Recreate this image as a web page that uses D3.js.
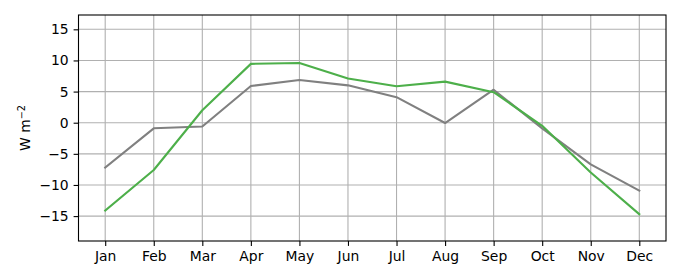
<!DOCTYPE html>
<html>
<head>
<meta charset="utf-8">
<script src="https://cdn.jsdelivr.net/npm/d3@7"></script>
<style>
  html, body { margin: 0; padding: 0; background: #fff; }
  svg { display: block; }
  text { font-family: "DejaVu Sans", sans-serif; }
</style>
</head>
<body>
<svg id="chart" width="680" height="280"></svg>
<script>
const months = ["Jan","Feb","Mar","Apr","May","Jun","Jul","Aug","Sep","Oct","Nov","Dec"];
const greySeries = [-7.2, -0.9, -0.6, 5.9, 6.85, 6.0, 4.1, -0.05, 5.3, -0.9, -6.7, -10.9];
const greenSeries = [-14.1, -7.6, 2.0, 9.45, 9.6, 7.1, 5.85, 6.6, 4.9, -0.5, -8.0, -14.7];
const yTicks = [-15, -10, -5, 0, 5, 10, 15];
const yDomain = [-19, 17.3];

const W = 680, H = 280;
const m = { left: 78.5, right: 680 - 666, top: 15, bottom: 280 - 241 };
const svg = d3.select("#chart");

const x = d3.scaleLinear().domain([-0.55, 11.55]).range([m.left, W - m.right]);
const y = d3.scaleLinear().domain(yDomain).range([H - m.bottom, m.top]);

// grid
const g = svg.append("g");
g.selectAll("line.vx").data(months).join("line")
  .attr("x1", (d, i) => x(i)).attr("x2", (d, i) => x(i))
  .attr("y1", m.top).attr("y2", H - m.bottom)
  .attr("stroke", "#b0b0b0").attr("stroke-width", 1.1);
g.selectAll("line.hy").data(yTicks).join("line")
  .attr("y1", d => y(d)).attr("y2", d => y(d))
  .attr("x1", m.left).attr("x2", W - m.right)
  .attr("stroke", "#b0b0b0").attr("stroke-width", 1.1);

// lines
const line = d3.line().x((d, i) => x(i)).y(d => y(d));
svg.append("path").datum(greySeries).attr("d", line)
  .attr("fill", "none").attr("stroke", "#808080").attr("stroke-width", 2.1)
  .attr("stroke-linejoin", "round").attr("stroke-linecap", "square");
svg.append("path").datum(greenSeries).attr("d", line)
  .attr("fill", "none").attr("stroke", "#4daf4a").attr("stroke-width", 2.1)
  .attr("stroke-linejoin", "round").attr("stroke-linecap", "square");

// axes
const xAxis = d3.axisBottom(x).tickValues(d3.range(12)).tickFormat(i => months[i])
  .tickSizeInner(4.9).tickSizeOuter(0).tickPadding(4.9);
const yAxis = d3.axisLeft(y).tickValues(yTicks).tickFormat(d3.format("d"))
  .tickSizeInner(4.9).tickSizeOuter(0).tickPadding(4.9);

const gx = svg.append("g").attr("transform", `translate(0,${H - m.bottom})`).call(xAxis);
const gy = svg.append("g").attr("transform", `translate(${m.left},0)`).call(yAxis);
[gx, gy].forEach(a => {
  a.select(".domain").remove();
  a.selectAll(".tick line").attr("stroke", "#000").attr("stroke-width", 1.1);
  a.selectAll(".tick text").attr("fill", "#000").style("font-size", "13.9px")
    .style("font-family", "'DejaVu Sans', sans-serif");
});

// frame
svg.append("rect").attr("x", m.left).attr("y", m.top)
  .attr("width", W - m.right - m.left).attr("height", H - m.bottom - m.top)
  .attr("fill", "none").attr("stroke", "#000").attr("stroke-width", 1.1);

// y label
const lab = svg.append("text")
  .attr("transform", `translate(30,${(m.top + H - m.bottom) / 2}) rotate(-90)`)
  .attr("text-anchor", "middle").style("font-size", "13.9px").attr("fill", "#000");
lab.append("tspan").text("W m");
lab.append("tspan").attr("dy", -5).style("font-size", "9.7px").text("\u22122");
</script>
</body>
</html>
